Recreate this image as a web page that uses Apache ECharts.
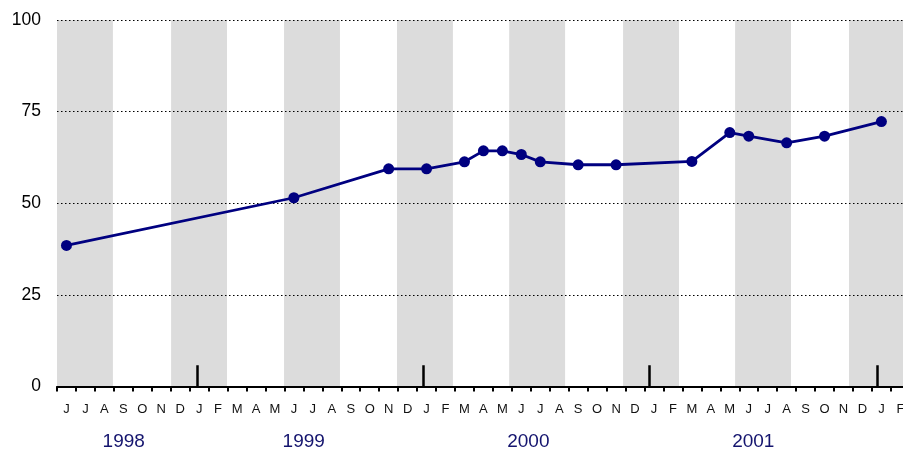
<!DOCTYPE html>
<html>
<head>
<meta charset="utf-8">
<script src="https://cdn.jsdelivr.net/npm/echarts@6/dist/echarts.min.js"></script>
<style>
  html, body { margin: 0; padding: 0; background: #fff; }
  #chart { width: 903px; height: 450px; }
</style>
</head>
<body>
<div id="chart"></div>
<script>
// months from June 1998 to February 2002
const monthLetters = [
  'J', 'J', 'A', 'S', 'O', 'N', 'D',
  'J', 'F', 'M', 'A', 'M', 'J', 'J', 'A', 'S', 'O', 'N', 'D',
  'J', 'F', 'M', 'A', 'M', 'J', 'J', 'A', 'S', 'O', 'N', 'D',
  'J', 'F', 'M', 'A', 'M', 'J', 'J', 'A', 'S', 'O', 'N', 'D',
  'J', 'F'
]
const years = ['1998', '1999', '2000', '2001']
// where each year label sits, in months
const yearLabelAt = [3.52, 13.02, 24.87, 36.74]
// month index of each reading and its value
const pointMonths = [0, 12, 17, 19, 21, 22, 23, 24, 25, 27, 29, 33, 35, 36, 38, 40, 43]
const pointValues = [38.5, 51.5, 59.4, 59.4, 61.3, 64.3, 64.3, 63.3, 61.3, 60.5, 60.5, 61.4, 69.3, 68.3, 66.5, 68.3, 72.3]
const yTicks = [0, 25, 50, 75, 100]
// shaded periods (Jun-Aug, Dec-Feb), start in months
const shadeStarts = [0, 6.02, 11.98, 17.94, 23.86, 29.87, 35.78, 41.79]
const shadeLength = 2.95
// year break marks
const yearMarks = [7.42, 19.35, 31.26, 43.29]
const yearMarkHeight = 5.8
// the last month is cut off at the right edge
const visibleMonths = 44.64

const nMonths = monthLetters.length
const boundaries = monthLetters.map((m, i) => i).concat([nMonths]).filter(v => v <= visibleMonths)
const centers = monthLetters.map((m, i) => i + 0.5)

const chart = echarts.init(document.getElementById('chart'))

const baseX = {
  type: 'value',
  min: 0,
  max: visibleMonths,
  position: 'bottom',
  splitLine: { show: false }
}

chart.setOption({
  animation: false,
  grid: { left: 57, right: 0, top: 20, bottom: 63.5, containLabel: false, outerBoundsMode: 'none' },
  xAxis: [
    Object.assign({}, baseX, {
      z: 4,
      axisLine: { show: true, lineStyle: { color: '#000', width: 2 } },
      axisTick: { show: true, customValues: boundaries, length: 5, lineStyle: { color: '#000', width: 2 } },
      axisLabel: {
        customValues: centers,
        margin: 16,
        fontFamily: 'Liberation Sans, Arial, sans-serif',
        fontSize: 13,
        color: '#111',
        formatter: v => monthLetters[Math.floor(v)]
      }
    }),
    Object.assign({}, baseX, {
      axisLine: { show: false },
      axisTick: { show: false },
      axisLabel: {
        customValues: yearLabelAt,
        margin: 46,
        fontFamily: 'Liberation Sans, Arial, sans-serif',
        fontSize: 19,
        color: '#14146e',
        formatter: v => years[yearLabelAt.indexOf(v)]
      }
    })
  ],
  yAxis: {
    type: 'value',
    z: 2,
    min: 0,
    max: 100,
    interval: 25,
    axisLine: { show: false },
    axisTick: { show: false },
    axisLabel: {
      margin: 16,
      fontFamily: 'Liberation Sans, Arial, sans-serif',
      fontSize: 17.5,
      color: '#000',
      formatter: v => (yTicks.indexOf(v) >= 0 ? String(v) : '')
    },
    splitLine: { show: true, lineStyle: { color: '#000', width: 1, type: [1.5, 2.5] } }
  },
  series: [
    {
      type: 'line',
      xAxisIndex: 0,
      data: [],
      silent: true,
      markArea: {
        silent: true,
        z: 1,
        itemStyle: { color: '#dcdcdc' },
        data: shadeStarts.map(s => [{ xAxis: s }, { xAxis: Math.min(s + shadeLength, visibleMonths) }])
      },
      markLine: {
        silent: true,
        symbol: 'none',
        label: { show: false },
        lineStyle: { color: '#000', width: 2.5, type: 'solid' },
        data: yearMarks.map(x => [{ coord: [x, 0] }, { coord: [x, yearMarkHeight] }])
      }
    },
    {
      type: 'line',
      xAxisIndex: 0,
      z: 3,
      data: pointMonths.map((m, i) => [m + 0.5, pointValues[i]]),
      symbol: 'circle',
      symbolSize: 11,
      lineStyle: { color: '#000080', width: 2.8 },
      itemStyle: { color: '#000080' }
    }
  ]
})
</script>
</body>
</html>
